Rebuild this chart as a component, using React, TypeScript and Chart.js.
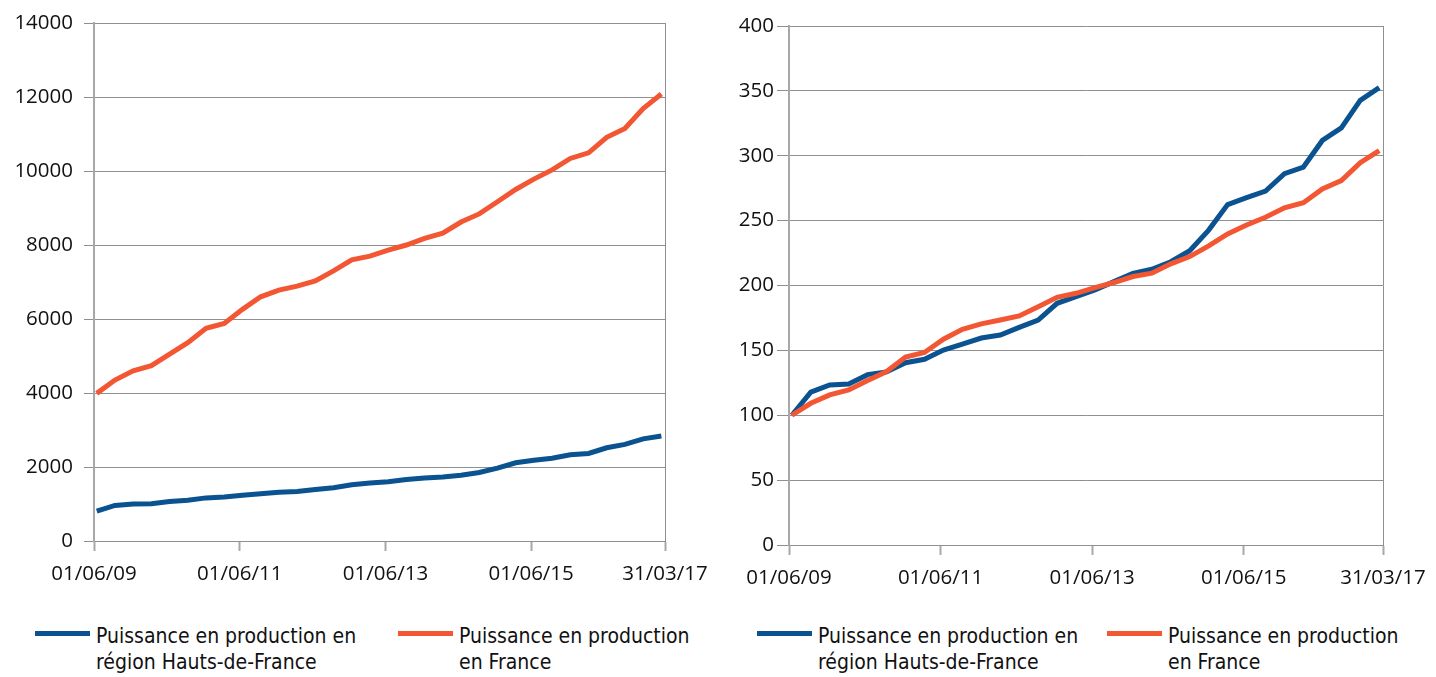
import React, { useEffect, useRef } from 'react';
import { Chart, registerables } from 'chart.js';

Chart.register(...registerables);

// Quarterly observations, June 2009 -> March 2017 (index 0..31)
const TICK_LABELS = ['01/06/09', '01/06/11', '01/06/13', '01/06/15', '31/03/17'];
const TICK_QUARTERS = [-0.15, 7.85, 15.85, 23.85, 31.2];

const SERIES_NAMES = [
  ['Puissance en production en', 'région Hauts-de-France'],
  ['Puissance en production', 'en France'],
];

// Left chart: installed capacity (MW)
const HDF_MW = [805, 960, 1000, 1010, 1070, 1100, 1165, 1190, 1235, 1280, 1315, 1335, 1390, 1440, 1520, 1565,
  1600, 1660, 1700, 1730, 1775, 1850, 1970, 2115, 2180, 2235, 2330, 2365, 2520, 2610, 2760, 2840];
const FRANCE_MW = [3990, 4350, 4600, 4740, 5050, 5360, 5750, 5880, 6260, 6600, 6780, 6890, 7030, 7300, 7600, 7700,
  7860, 8000, 8180, 8320, 8620, 8840, 9170, 9500, 9780, 10030, 10340, 10490, 10910, 11150, 11690, 12080];

// Right chart: index base 100
const HDF_INDEX = [100, 117.8, 123.3, 124.1, 131.3, 133.4, 140.5, 143.1, 150.2, 154.8, 159.5, 161.8, 167.7, 173.4, 186.3, 191.4,
  196.5, 203, 209.4, 212.5, 218.3, 226.8, 242.7, 262.4, 267.7, 272.8, 286.2, 291.3, 311.8, 321.5, 342.7, 352.5];
const FRANCE_INDEX = [100, 109.2, 115.7, 119.5, 126.7, 133.7, 144.8, 148.4, 158.6, 166.3, 170.4, 173.4, 176.5, 183.7, 190.9, 194,
  198.3, 202.3, 206.9, 209.5, 216.7, 222.3, 230.5, 239.7, 246.6, 252.6, 259.9, 263.8, 274.4, 280.8, 294.7, 304];

const BLUE = '#0a5290';
const ORANGE = '#f25632';
const GRID = '#8f8f8f';
const AXIS = '#a8a8a8';
const TEXT = '#111111';
const TICK_FONT = { family: '"Open Sans", "DejaVu Sans", sans-serif', size: 20.5 };

interface ChartSpec {
  width: number;
  height: number;
  blue: number[];
  orange: number[];
  yMax: number;
  yStep: number;
  yAxisWidth: number;
  xAxisHeight: number;
  padTop: number;
  padRight: number;
  yTickLength: number;
  yTickPadding: number;
}

function LineChart({ spec }: { spec: ChartSpec }) {
  const ref = useRef<HTMLCanvasElement | null>(null);
  useEffect(() => {
    if (!ref.current) return;
    const toPts = (arr: number[]) => arr.map((v, i) => ({ x: i, y: v }));
    const chart = new Chart(ref.current, {
      type: 'line',
      data: {
        datasets: [
          { label: SERIES_NAMES[0].join(' '), data: toPts(spec.blue), borderColor: BLUE, backgroundColor: BLUE, borderWidth: 5, pointRadius: 0, order: 1 },
          { label: SERIES_NAMES[1].join(' '), data: toPts(spec.orange), borderColor: ORANGE, backgroundColor: ORANGE, borderWidth: 5, pointRadius: 0, order: 0 },
        ],
      },
      options: {
        responsive: false,
        animation: false,
        parsing: false,
        layout: { padding: { left: 0, top: spec.padTop, right: spec.padRight, bottom: 0 } },
        plugins: { legend: { display: false }, tooltip: { enabled: false } },
        scales: {
          x: {
            type: 'linear',
            min: TICK_QUARTERS[0],
            max: TICK_QUARTERS[TICK_QUARTERS.length - 1],
            afterBuildTicks: (s: any) => {
              s.ticks = TICK_QUARTERS.map((v) => ({ value: v }));
            },
            afterFit: (s: any) => {
              s.height = spec.xAxisHeight;
              s.paddingLeft = 0;
              s.paddingRight = 0;
            },
            ticks: {
              autoSkip: false,
              maxRotation: 0,
              padding: 11,
              color: TEXT,
              font: TICK_FONT,
              callback: (_v: any, i: number) => TICK_LABELS[i],
            },
            grid: {
              color: (ctx: any) => (ctx.index === TICK_QUARTERS.length - 1 ? GRID : 'rgba(0,0,0,0)'),
              tickColor: AXIS,
              tickLength: 10,
              tickWidth: 2,
              lineWidth: 1,
            },
            border: { display: true, color: GRID, width: 1 },
          },
          y: {
            min: 0,
            max: spec.yMax,
            afterFit: (s: any) => {
              s.width = spec.yAxisWidth;
              s.paddingTop = 0;
              s.paddingBottom = 0;
            },
            ticks: {
              stepSize: spec.yStep,
              padding: spec.yTickPadding,
              color: TEXT,
              font: TICK_FONT,
              callback: (v: any) => String(v),
            },
            grid: { color: GRID, lineWidth: 1, tickLength: spec.yTickLength, tickColor: GRID },
            border: { display: true, color: AXIS, width: 2 },
          },
        },
      },
    } as any);
    return () => chart.destroy();
  }, [spec]);
  return <canvas ref={ref} width={spec.width} height={spec.height} style={{ width: spec.width, height: spec.height, display: 'block' }} />;
}

function LegendItem({ left, color, lines }: { left: number; color: string; lines: string[] }) {
  return (
    <div style={{ position: 'absolute', left, top: 623, display: 'flex', alignItems: 'flex-start' }}>
      <div style={{ width: 55, height: 5, background: color, marginTop: 8, marginRight: 6 }} />
      <div
        style={{
          fontFamily: '"DejaVu Sans Condensed", "DejaVu Sans", sans-serif',
          fontStretch: 'condensed',
          fontSize: 21,
          lineHeight: '26px',
          color: TEXT,
          whiteSpace: 'nowrap',
        }}
      >
        {lines.map((l, i) => (
          <div key={i}>{l}</div>
        ))}
      </div>
    </div>
  );
}

const LEFT_SPEC: ChartSpec = {
  width: 710, height: 600, blue: HDF_MW, orange: FRANCE_MW, yMax: 14000, yStep: 2000,
  yAxisWidth: 94, xAxisHeight: 59, padTop: 23, padRight: 45, yTickLength: 10, yTickPadding: 11,
};
const RIGHT_SPEC: ChartSpec = {
  width: 718, height: 600, blue: HDF_INDEX, orange: FRANCE_INDEX, yMax: 400, yStep: 50,
  yAxisWidth: 71, xAxisHeight: 55, padTop: 26, padRight: 53, yTickLength: 12, yTickPadding: 3,
};

export default function App() {
  useEffect(() => {
    document.body.style.margin = '0';
  }, []);
  return (
    <div style={{ position: 'relative', width: 1436, height: 677, background: '#fff', overflow: 'hidden' }}>
      <div style={{ position: 'absolute', left: 0, top: 0 }}>
        <LineChart spec={LEFT_SPEC} />
      </div>
      <div style={{ position: 'absolute', left: 718, top: 0 }}>
        <LineChart spec={RIGHT_SPEC} />
      </div>
      <LegendItem left={35} color={BLUE} lines={SERIES_NAMES[0]} />
      <LegendItem left={398} color={ORANGE} lines={SERIES_NAMES[1]} />
      <LegendItem left={757} color={BLUE} lines={SERIES_NAMES[0]} />
      <LegendItem left={1107} color={ORANGE} lines={SERIES_NAMES[1]} />
    </div>
  );
}
